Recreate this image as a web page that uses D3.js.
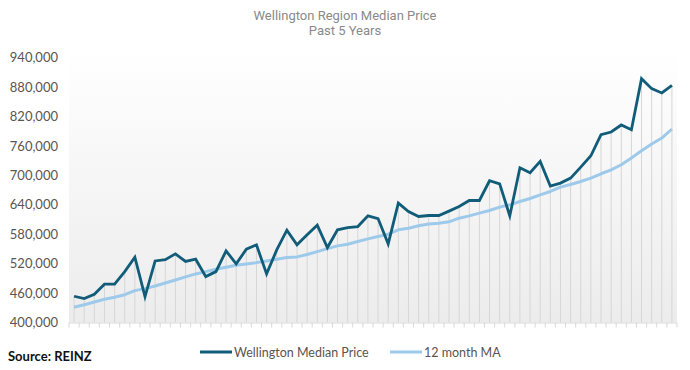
<!DOCTYPE html>
<html>
<head>
<meta charset="utf-8">
<script src="https://cdn.jsdelivr.net/npm/d3@7"></script>
<style>
  body { margin: 0; background: #fff; }
  svg { display: block; font-family: "Lato", "Open Sans", sans-serif; }
</style>
</head>
<body>
<div id="chart"></div>
<script>
// monthly data, past 5 years (60 months)
var median = [
  453500, 448600, 457500, 478000, 478000, 503700, 533000, 452700, 525500, 528000, 539800, 524500,
  529000, 493500, 503700, 546000, 519400, 549400, 558200, 499000, 548000, 588200, 558200, 578600,
  598400, 552700, 588800, 593500, 595500, 617300, 611800, 560200, 643300, 626100, 616000, 618000,
  618000, 627000, 636300, 648600, 648600, 688800, 682600, 617300, 715300, 705100, 728200, 678000,
  684100, 694300, 716700, 739800, 782700, 788200, 802500, 792900, 896900, 876500, 867800, 883200
];
var movingAvg = [
  431000, 436300, 441800, 447300, 451400, 456700, 464900, 469000, 474500, 480600, 486700, 493000,
  499000, 503700, 508600, 512700, 516700, 519400, 522000, 525500, 529000, 532300, 533700, 538500,
  544500, 550600, 556100, 559600, 564900, 570400, 575100, 580000, 588800, 592200, 597000, 600700,
  602400, 605100, 612600, 617300, 622900, 628200, 635100, 639800, 646500, 652700, 660200, 667000,
  675900, 681200, 687300, 694300, 703100, 711200, 721400, 735100, 750000, 763700, 775900, 794300
];
var months = d3.range(median.length);
var yTicks = [400000, 460000, 520000, 580000, 640000, 700000, 760000, 820000, 880000, 940000];

var width = 690, height = 370;
var plotLeft = 69, plotRight = 677, plotTop = 57.5, plotBottom = 322.5;

var svg = d3.select("#chart").append("svg")
  .attr("width", width).attr("height", height);

var x = d3.scaleBand().domain(months).range([plotLeft, plotRight]);
var y = d3.scaleLinear().domain([400000, 940000]).range([plotBottom, plotTop]);

// background gradient
var grad = svg.append("defs").append("linearGradient")
  .attr("id", "bg").attr("x1", 0).attr("y1", 0).attr("x2", 0).attr("y2", 1);
grad.append("stop").attr("offset", "0%").attr("stop-color", "#ffffff");
grad.append("stop").attr("offset", "100%").attr("stop-color", "#ececec");

svg.append("rect")
  .attr("x", plotLeft).attr("y", 48)
  .attr("width", plotRight - plotLeft).attr("height", plotBottom - 48)
  .attr("fill", "url(#bg)");

// title
svg.append("text").attr("x", 345).attr("y", 20)
  .attr("text-anchor", "middle").attr("fill", "#8a8a8a")
  .style("font-family", "Roboto, sans-serif").style("font-size", "13px")
  .text("Wellington Region Median Price");
svg.append("text").attr("x", 345).attr("y", 35)
  .attr("text-anchor", "middle").attr("fill", "#8a8a8a")
  .style("font-family", "Roboto, sans-serif").style("font-size", "13px")
  .text("Past 5 Years");

// y axis labels
var yAxis = d3.axisLeft(y).tickValues(yTicks).tickSize(0).tickPadding(11)
  .tickFormat(d3.format(","));
var yg = svg.append("g").attr("transform", "translate(" + plotLeft + ",0)").call(yAxis);
yg.select(".domain").remove();
yg.selectAll("text").attr("fill", "#5b5450").style("font-size", "13px")
  .style("font-family", "Lato, sans-serif");

// drop lines
svg.append("g").selectAll("line").data(months).enter().append("line")
  .attr("x1", function(d) { return x(d) + x.bandwidth() / 2; })
  .attr("x2", function(d) { return x(d) + x.bandwidth() / 2; })
  .attr("y1", function(d) { return y(median[d]); })
  .attr("y2", plotBottom)
  .attr("stroke", "#d6d6d6").attr("stroke-width", 1);

// x axis with ticks between categories
var xg = svg.append("g").attr("transform", "translate(0," + plotBottom + ")");
xg.append("line").attr("x1", plotLeft).attr("x2", plotRight).attr("y1", 0.5).attr("y2", 0.5)
  .attr("stroke", "#d9d9d9");
xg.selectAll(".tk").data(d3.range(median.length + 1)).enter().append("line")
  .attr("class", "tk")
  .attr("x1", function(d) { return plotLeft + d * x.step(); })
  .attr("x2", function(d) { return plotLeft + d * x.step(); })
  .attr("y1", 0).attr("y2", 5)
  .attr("stroke", "#d9d9d9");

var cx = function(d, i) { return x(i) + x.bandwidth() / 2; };

svg.append("path").datum(movingAvg)
  .attr("fill", "none").attr("stroke", "#9dcaea").attr("stroke-width", 3)
  .attr("stroke-linejoin", "round")
  .attr("d", d3.line().x(cx).y(function(d) { return y(d); }));

svg.append("path").datum(median)
  .attr("fill", "none").attr("stroke", "#115d79").attr("stroke-width", 2.8)
  .attr("stroke-linejoin", "miter")
  .attr("d", d3.line().x(cx).y(function(d) { return y(d); }));

// source
svg.append("text").attr("x", 8).attr("y", 361)
  .attr("fill", "#111").style("font-weight", "bold").style("font-size", "13px")
  .style("font-family", "Lato, sans-serif")
  .text("Source: REINZ");

// legend
var legend = [
  { name: "Wellington Median Price", color: "#115d79", x: 200 },
  { name: "12 month MA", color: "#9dcaea", x: 390 }
];
var lg = svg.append("g").selectAll("g").data(legend).enter().append("g")
  .attr("transform", function(d) { return "translate(" + d.x + ",352)"; });
lg.append("line").attr("x1", 0).attr("x2", 32).attr("y1", 0).attr("y2", 0)
  .attr("stroke", function(d) { return d.color; }).attr("stroke-width", 3);
lg.append("text").attr("x", 34).attr("y", 4.5)
  .attr("fill", "#5b5450").style("font-size", "12.5px")
  .style("font-family", "Lato, sans-serif")
  .text(function(d) { return d.name; });
</script>
</body>
</html>
